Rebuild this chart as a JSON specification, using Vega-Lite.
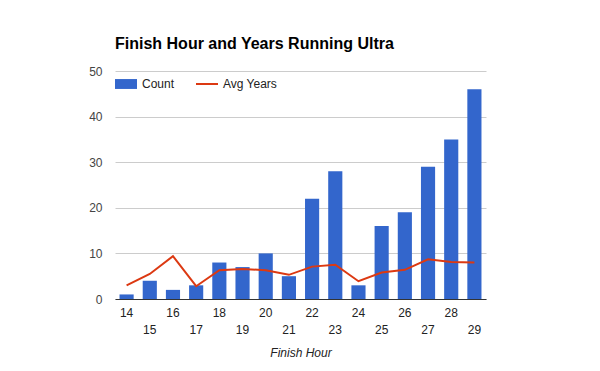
{
  "$schema": "https://vega.github.io/schema/vega-lite/v6.json",
  "autosize": "none",
  "padding": {"left": 115, "top": 71, "right": 114, "bottom": 72},
  "width": 371,
  "height": 228,
  "background": "white",
  "title": {
    "text": "Finish Hour and Years Running Ultra",
    "anchor": "start",
    "frame": "group",
    "font": "Liberation Sans",
    "fontSize": 16,
    "fontWeight": "bold",
    "color": "#000000",
    "offset": 13
  },
  "config": {
    "view": {"stroke": null},
    "font": "Liberation Sans"
  },
  "data": {
    "values": [
      {"hour": 14, "count": 1, "avg": 3.0},
      {"hour": 15, "count": 4, "avg": 5.5},
      {"hour": 16, "count": 2, "avg": 9.4},
      {"hour": 17, "count": 3, "avg": 2.8},
      {"hour": 18, "count": 8, "avg": 6.3},
      {"hour": 19, "count": 7, "avg": 6.6},
      {"hour": 20, "count": 10, "avg": 6.3},
      {"hour": 21, "count": 5, "avg": 5.3},
      {"hour": 22, "count": 22, "avg": 7.1},
      {"hour": 23, "count": 28, "avg": 7.5},
      {"hour": 24, "count": 3, "avg": 3.9},
      {"hour": 25, "count": 16, "avg": 5.8},
      {"hour": 26, "count": 19, "avg": 6.4},
      {"hour": 27, "count": 29, "avg": 8.7},
      {"hour": 28, "count": 35, "avg": 8.1},
      {"hour": 29, "count": 46, "avg": 8.0}
    ]
  },
  "encoding": {
    "x": {
      "field": "hour",
      "type": "ordinal",
      "scale": {"paddingInner": 0.39, "paddingOuter": 0.195},
      "axis": {
        "title": "Finish Hour",
        "titleFont": "Liberation Sans",
        "titleFontSize": 12,
        "titleFontStyle": "italic",
        "titleFontWeight": "normal",
        "titleColor": "#222222",
        "titlePadding": 12,
        "labelAngle": 0,
        "labelFontSize": 12,
        "labelColor": "#222222",
        "labelBaseline": "top",
        "labelPadding": 8,
        "labelLineHeight": 17,
        "labelExpr": "datum.value % 2 == 1 ? ['', datum.label] : datum.label",
        "ticks": false,
        "domainColor": "#333333",
        "domainWidth": 1,
        "grid": false
      }
    }
  },
  "layer": [
    {
      "mark": {"type": "bar"},
      "encoding": {
        "y": {
          "field": "count",
          "type": "quantitative",
          "scale": {"domain": [0, 50]},
          "axis": {
            "title": null,
            "values": [0, 10, 20, 30, 40, 50],
            "labelFontSize": 12,
            "labelColor": "#444444",
            "labelPadding": 13,
            "ticks": false,
            "domain": false,
            "gridColor": "#cccccc"
          }
        },
        "color": {
          "datum": "Count",
          "type": "nominal",
          "scale": {"domain": ["Count", "Avg Years"], "range": ["#3366cc", "#dc3912"]},
          "legend": {
            "title": null,
            "orient": "none",
            "legendX": 5,
            "legendY": 7,
            "direction": "horizontal",
            "labelFontSize": 12,
            "labelColor": "#222222",
            "symbolSize": 484,
            "columnPadding": 17,
            "labelOffset": 10,
            "encode": {
              "symbols": {
                "update": {
                  "shape": {"signal": "datum.value == 'Count' ? 'M-1,-0.45H1V0.45H-1Z' : 'M-1,0H1'"},
                  "fill": {"signal": "datum.value == 'Count' ? '#3366cc' : 'transparent'"},
                  "stroke": {"signal": "datum.value == 'Count' ? '#3366cc' : '#dc3912'"},
                  "strokeWidth": {"signal": "datum.value == 'Count' ? 0 : 2"},
                  "opacity": {"value": 1}
                }
              }
            }
          }
        }
      }
    },
    {
      "mark": {"type": "line", "strokeWidth": 2},
      "encoding": {
        "y": {"field": "avg", "type": "quantitative"},
        "color": {"datum": "Avg Years", "type": "nominal"}
      }
    }
  ]
}
